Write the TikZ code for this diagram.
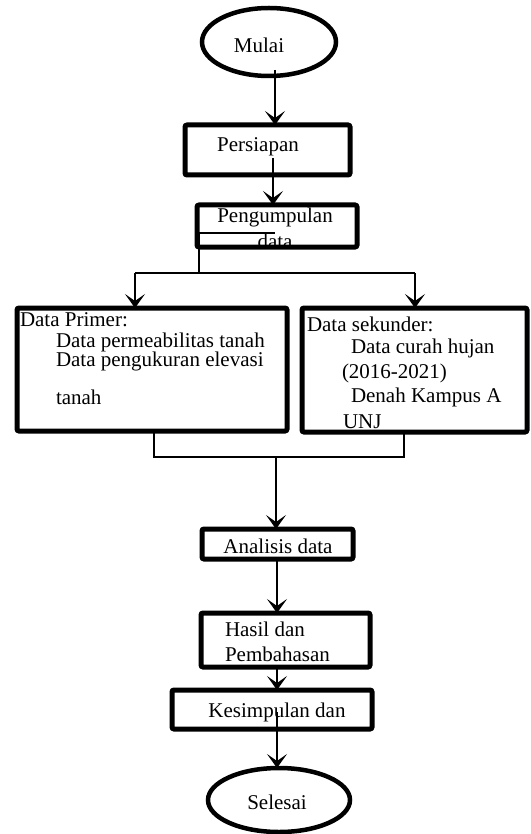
\documentclass[tikz,border=0pt]{standalone}
\usepackage{fontspec}
\setmainfont{Liberation Serif}
\usetikzlibrary{shapes.geometric,arrows.meta,calc}
\tikzset{
  boxst/.style={draw,line width=5pt,rounded corners=2pt,minimum width=#1,inner sep=0pt,outer sep=0pt},
  ellst/.style={draw,ellipse,line width=4.5pt,inner sep=0pt,outer sep=0pt},
  txt/.style={inner sep=0pt,outer sep=0pt,font=\fontsize{21pt}{24pt}\selectfont},
  conn/.style={line width=1.8pt},
  arr/.style={conn,-{Stealth[length=14pt,width=20pt,inset=7pt]}}
}
\begin{document}
\begin{tikzpicture}[x=1pt,y=-1pt]
\useasboundingbox (0,0) rectangle (530,834);
% texts
\node[txt] (tmulai) at (259,45) {Mulai};
\node[txt] (tpers) at (258,147) {Persiapan};
\node[txt] (tpeng1) at (275,217) {Pengumpulan};
\node[txt] (tpeng2) at (275,241) {data};
\node[txt,anchor=west] (tp0) at (20,320) {Data Primer:};
\node[txt,anchor=west] (tp1) at (56,342) {Data permeabilitas tanah};
\node[txt,anchor=west] (tp2) at (56,361) {Data pengukuran elevasi};
\node[txt,anchor=west] (tp3) at (56,397) {tanah};
\node[txt,anchor=west] (ts0) at (307,324) {Data sekunder:};
\node[txt,anchor=west] (ts1) at (351,348) {Data curah hujan};
\node[txt,anchor=west] (ts2) at (342,373) {(2016-2021)};
\node[txt,anchor=west] (ts3) at (351,397) {Denah Kampus A};
\node[txt,anchor=west] (ts4) at (343,422) {UNJ};
\node[txt] (tanal) at (278,546) {Analisis data};
\node[txt,anchor=west] (thas1) at (225,629) {Hasil dan};
\node[txt,anchor=west] (thas2) at (225,654) {Pembahasan};
\node[txt] (tkes) at (277,712) {Kesimpulan dan};
\node[txt] (tsel) at (277,802) {Selesai};
% shapes
\node[ellst,minimum width=134pt,minimum height=68pt] (mulai) at (269,42) {};
\node[boxst=165pt,minimum height=50pt] (pers) at (267.5,150) {};
\node[boxst=160pt,minimum height=42pt] (peng) at (277,226) {};
\node[boxst=270pt,minimum height=123pt] (prim) at (152,369.5) {};
\node[boxst=225pt,minimum height=124pt] (sek) at (414.5,370) {};
\node[boxst=151pt,minimum height=30pt] (anal) at (277.5,544) {};
\node[boxst=169pt,minimum height=54pt] (hasil) at (285.5,640) {};
\node[boxst=200pt,minimum height=39pt] (kes) at (272,709.5) {};
\node[ellst,minimum width=142pt,minimum height=64pt] (sel) at (279,800) {};
% connectors
\coordinate (c1) at (275,70);
\draw[arr] (c1) -- (c1 |- pers.north);
\coordinate (c2) at (273,158);
\draw[arr] (c2) -- (c2 |- peng.north);
\coordinate (c3) at (199,233);
\draw[conn] (peng.west |- c3) -- (275,233);
\coordinate (c4) at (199,273);
\draw[conn] (c3) -- (c4);
\coordinate (c5) at (135,273);
\coordinate (c6) at (415,273);
\draw[conn] (c5) -- (c6);
\draw[arr] (c5) -- (c5 |- prim.north);
\draw[arr] (c6) -- (c6 |- sek.north);
\coordinate (c7) at (154,457);
\coordinate (c8) at (404,457);
\draw[conn] (c7 |- prim.south) -- (c7) -- (c8) -- (c8 |- sek.south);
\coordinate (c9) at (276,457);
\draw[arr] (c9) -- (c9 |- anal.north);
\coordinate (c10) at (277,559);
\draw[arr] (c10) -- (c10 |- hasil.north);
\coordinate (c11) at (277,667);
\draw[arr] (c11) -- (c11 |- kes.north);
\coordinate (c12) at (277,712);
\draw[arr] (c12) -- (c12 |- sel.north);
\end{tikzpicture}
\end{document}
